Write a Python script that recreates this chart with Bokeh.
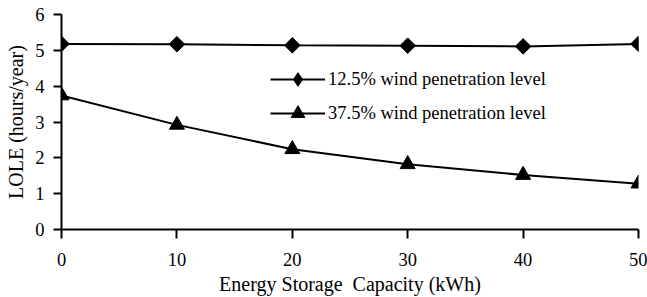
from bokeh.plotting import figure
from bokeh.models import Legend, LegendItem, Range1d, FixedTicker
from bokeh.embed import file_html
from bokeh.resources import INLINE
import math

capacity = [0, 10, 20, 30, 40, 50]
lole_12_5 = [5.18, 5.17, 5.14, 5.13, 5.11, 5.18]
lole_37_5 = [3.74, 2.92, 2.24, 1.82, 1.52, 1.28]
x_ticks = [0, 10, 20, 30, 40, 50]
y_ticks = [0, 1, 2, 3, 4, 5, 6]

FONT = "Liberation Serif"

p = figure(width=647, height=297, output_backend="svg", toolbar_location=None,
           x_range=Range1d(0, 50), y_range=Range1d(0, 6),
           min_border_left=61, min_border_right=9, min_border_top=14, min_border_bottom=68)
p.outline_line_color = None
p.xgrid.visible = False
p.ygrid.visible = False
p.background_fill_color = "white"

for ax in (p.xaxis[0], p.yaxis[0]):
    ax.axis_line_color = "black"
    ax.axis_line_width = 2
    ax.major_tick_line_color = "black"
    ax.major_tick_line_width = 2
    ax.major_tick_in = 0
    ax.minor_tick_line_color = None
    ax.major_label_text_font = FONT
    ax.major_label_text_font_size = "18.5px"
    ax.major_label_text_color = "black"
    ax.axis_label_text_font = FONT
    ax.axis_label_text_font_size = "20px"
    ax.axis_label_text_font_style = "normal"
    ax.axis_label_text_color = "black"

p.xaxis.ticker = FixedTicker(ticks=x_ticks)
p.yaxis.ticker = FixedTicker(ticks=y_ticks)
p.xaxis.major_tick_out = 9
p.yaxis.major_tick_out = 8
p.xaxis.major_label_standoff = 14
p.yaxis.major_label_standoff = 9
p.xaxis.axis_label = "Energy Storage\u00a0 Capacity (kWh)"
p.yaxis.axis_label = "LOLE (hours/year)"
p.xaxis.axis_label_standoff = 4
p.yaxis.axis_label_standoff = 5

l1 = p.line(capacity, lole_12_5, line_color="black", line_width=2)
m1_leg = p.scatter(capacity, lole_12_5, marker="diamond", size=13,
                   fill_color="black", line_color="black")
m1 = p.scatter(capacity, lole_12_5, marker="square", size=11, angle=math.pi / 4,
               fill_color="black", line_color="black")
l2 = p.line(capacity, lole_37_5, line_color="black", line_width=2)
m2 = p.scatter(capacity, lole_37_5, marker="triangle", size=15,
               fill_color="black", line_color="black")

legend = Legend(items=[
    LegendItem(label="12.5% wind penetration level", renderers=[l1, m1_leg]),
    LegendItem(label="37.5% wind penetration level", renderers=[l2, m2]),
], location=(209, 99))
legend.glyph_width = 55
legend.glyph_height = 34
legend.spacing = 0
legend.padding = 0
legend.margin = 0
legend.label_standoff = 3
legend.border_line_color = None
legend.background_fill_alpha = 0
legend.label_text_font = FONT
legend.label_text_font_size = "18.5px"
legend.label_text_color = "black"
p.add_layout(legend, "center")

open("out.html", "w").write(file_html(p, INLINE))
